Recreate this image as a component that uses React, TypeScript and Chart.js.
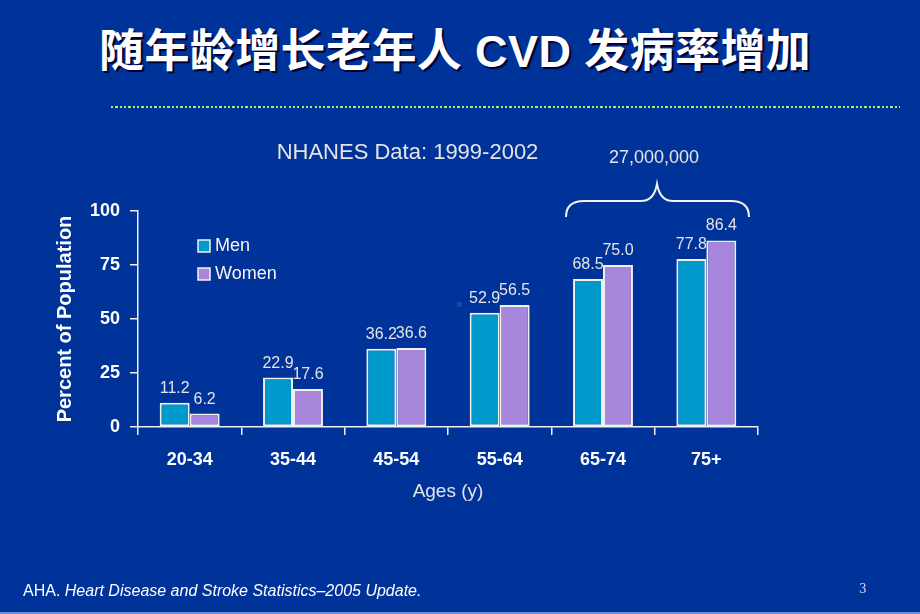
import React, { useEffect, useRef } from "react";
import { Chart, registerables } from "chart.js";

Chart.register(...registerables);

const categories = ["20-34", "35-44", "45-54", "55-64", "65-74", "75+"];
const menValues = [11.2, 22.9, 36.2, 52.9, 68.5, 77.8];
const womenValues = [6.2, 17.6, 36.6, 56.5, 75.0, 86.4];
const seriesNames = ["Men", "Women"];
const yTicks = [0, 25, 50, 75, 100];

const slideTitle = "随年龄增长老年人 CVD 发病率增加";
const chartSubtitle = "NHANES Data: 1999-2002";
const braceLabel = "27,000,000";
const yTitle = "Percent of Population";
const xTitle = "Ages (y)";

const BG = "#003399";
const MEN = "#0099CC";
const WOMEN = "#A886DC";
const FONT = "'Liberation Sans', Arial, sans-serif";

const annotations = {
  id: "annotations",
  afterDatasetsDraw(chart: any) {
    const ctx = chart.ctx;
    ctx.save();
    // value labels
    ctx.font = `16px ${FONT}`;
    ctx.fillStyle = "#e4e4e4";
    ctx.textAlign = "center";
    ctx.textBaseline = "alphabetic";
    chart.data.datasets.forEach((ds: any, di: number) => {
      const meta = chart.getDatasetMeta(di);
      meta.data.forEach((bar: any, i: number) => {
        ctx.fillText(Number(ds.data[i]).toFixed(1), bar.x, bar.y - 10);
      });
    });
    // legend
    const lx = 198;
    const ly = [240, 268];
    chart.data.datasets.forEach((ds: any, di: number) => {
      ctx.fillStyle = ds.backgroundColor;
      ctx.fillRect(lx, ly[di], 12, 12);
      ctx.strokeStyle = "#f2f2f2";
      ctx.lineWidth = 1.5;
      ctx.strokeRect(lx, ly[di], 12, 12);
      ctx.fillStyle = "#f4f4f4";
      ctx.font = `18px ${FONT}`;
      ctx.textAlign = "left";
      ctx.textBaseline = "middle";
      ctx.fillText(ds.label, 215, ly[di] + 6);
    });
    // subtitle
    ctx.fillStyle = "#e4e4e4";
    ctx.font = `22px ${FONT}`;
    ctx.textAlign = "center";
    ctx.textBaseline = "middle";
    ctx.fillText(chartSubtitle, 407.5, 153);
    ctx.font = `18px ${FONT}`;
    ctx.fillText(braceLabel, 654, 158);
    // brace
    ctx.strokeStyle = "#f2f2f2";
    ctx.lineWidth = 2;
    ctx.beginPath();
    ctx.moveTo(566, 217);
    ctx.quadraticCurveTo(566, 201, 584, 201);
    ctx.lineTo(641, 201);
    ctx.quadraticCurveTo(654, 201, 657, 184);
    ctx.quadraticCurveTo(660, 201, 673, 201);
    ctx.lineTo(731, 201);
    ctx.quadraticCurveTo(749, 201, 749, 217);
    ctx.stroke();
    // small artifact square
    ctx.fillStyle = "#23449a";
    ctx.fillRect(457, 302, 5, 5);
    ctx.restore();
  },
};

export default function App() {
  const ref = useRef<HTMLCanvasElement>(null);
  useEffect(() => {
    if (!ref.current) return;
    const chart = new Chart(ref.current, {
      type: "bar",
      data: {
        labels: categories,
        datasets: [
          {
            label: seriesNames[0],
            data: menValues,
            backgroundColor: MEN,
            borderColor: "#f0f0f0",
            borderWidth: 2,
            borderSkipped: false,
          },
          {
            label: seriesNames[1],
            data: womenValues,
            backgroundColor: WOMEN,
            borderColor: "#f0f0f0",
            borderWidth: 2,
            borderSkipped: false,
          },
        ],
      },
      options: {
        responsive: false,
        animation: false,
        devicePixelRatio: 1,
        layout: { padding: { top: 211, left: 0, right: 162, bottom: 100 } },
        datasets: { bar: { barPercentage: 1, categoryPercentage: 0.58 } },
        plugins: {
          legend: { display: false },
          tooltip: { enabled: false },
          title: { display: false },
        },
        scales: {
          x: {
            afterFit: (s: any) => {
              s.height = 87;
            },
            grid: {
              drawOnChartArea: false,
              drawTicks: true,
              tickLength: 8,
              color: "#f0f0f0",
              lineWidth: 1.5,
            },
            border: { color: "#f0f0f0", width: 1.5 },
            ticks: {
              color: "#ffffff",
              font: { family: FONT, size: 18, weight: "bold" },
              padding: 14,
              maxRotation: 0,
            },
            title: {
              display: true,
              text: xTitle,
              color: "#e4e4e4",
              font: { family: FONT, size: 19 },
              padding: { top: 0, bottom: 11 },
            },
          },
          y: {
            min: 0,
            max: 100,
            afterFit: (s: any) => {
              s.width = 138;
            },
            afterBuildTicks: (s: any) => {
              s.ticks = yTicks.map((v) => ({ value: v }));
            },
            grid: {
              drawOnChartArea: false,
              drawTicks: true,
              tickLength: 8,
              color: "#f0f0f0",
              lineWidth: 1.5,
            },
            border: { color: "#f0f0f0", width: 1.5 },
            ticks: {
              color: "#ffffff",
              font: { family: FONT, size: 18, weight: "bold" },
              padding: 10,
            },
            title: {
              display: true,
              text: yTitle,
              color: "#ffffff",
              font: { family: FONT, size: 20, weight: "bold" },
              padding: { top: 53, bottom: 0 },
            },
          },
        },
      },
      plugins: [annotations],
    });
    return () => chart.destroy();
  }, []);

  return (
    <div
      style={{
        position: "absolute",
        left: 0,
        top: 0,
        width: 920,
        height: 614,
        background: BG,
        overflow: "hidden",
      }}
    >
      <div
        style={{
          position: "absolute",
          left: 99,
          top: 29,
          whiteSpace: "nowrap",
          fontFamily: "'Liberation Sans', 'Noto Sans CJK SC', sans-serif",
          fontWeight: "bold",
          fontSize: 45,
          lineHeight: "45px",
          letterSpacing: "0.4px",
          color: "#ffffff",
          textShadow: "2px 2px 1px #000033",
        }}
      >
        {slideTitle}
      </div>
      <div
        style={{
          position: "absolute",
          left: 111,
          top: 106,
          width: 789,
          height: 2,
          background:
            "repeating-linear-gradient(to right, #9cf56a 0px, #9cf56a 2.3px, transparent 2.3px, transparent 4.33px)",
        }}
      />
      <canvas
        ref={ref}
        width={920}
        height={614}
        style={{ position: "absolute", left: 0, top: 0, width: 920, height: 614 }}
      />
      <div
        style={{
          position: "absolute",
          left: 23,
          top: 582,
          whiteSpace: "nowrap",
          fontFamily: FONT,
          fontSize: 16,
          lineHeight: "17px",
          color: "#ffffff",
        }}
      >
        AHA. <i>Heart Disease and Stroke Statistics–2005 Update.</i>
      </div>
      <div
        style={{
          position: "absolute",
          left: 859,
          top: 582,
          fontFamily: "'DejaVu Serif', 'Liberation Serif', serif",
          fontSize: 12,
          lineHeight: "14px",
          color: "#d0d8f0",
        }}
      >
        3
      </div>
      <div
        style={{
          position: "absolute",
          left: 0,
          top: 612,
          width: 920,
          height: 2,
          background: "#6f8fd8",
        }}
      />
    </div>
  );
}
